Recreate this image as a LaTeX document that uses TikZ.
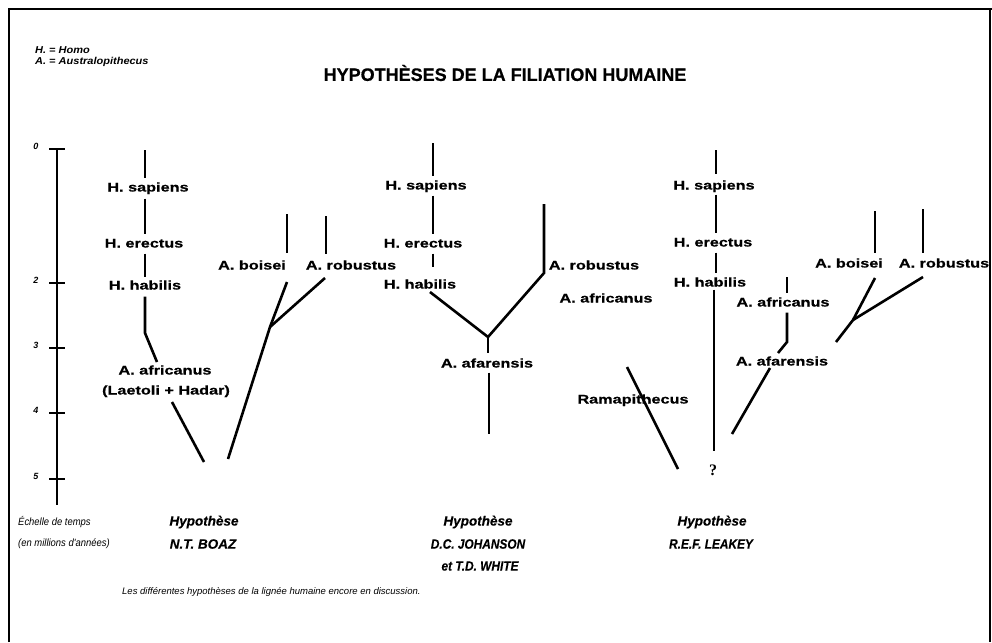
\documentclass[tikz,border=0pt]{standalone}
\usepackage{fontspec}
\setmainfont{Liberation Sans}
\newfontfamily\labf[FakeStretch=1.3, BoldFeatures={FakeBold=0.5}]{Liberation Sans}
\newfontfamily\titf[BoldFeatures={FakeBold=0.6}]{Liberation Sans}
\newfontfamily\narf[FakeStretch=0.9]{Liberation Sans}
\newfontfamily\hypf[BoldItalicFeatures={FakeBold=0.3}]{Liberation Sans}
\newfontfamily\namef[FakeStretch=0.88, BoldItalicFeatures={FakeBold=0.3}]{Liberation Sans}
\newfontfamily\legf[FakeStretch=1.1]{Liberation Sans}
\newfontfamily\serf{Liberation Serif}
\begin{document}
\begin{tikzpicture}[x=1pt,y=-1pt,
  lab/.style={font=\labf\bfseries\fontsize{12.5}{14}\selectfont, inner sep=0pt, outer sep=0pt, text height=9pt, text depth=0pt},
  branch/.style={line width=2.6pt, line cap=butt},
  hyp/.style={font=\hypf\bfseries\itshape\fontsize{13.5}{14}\selectfont, inner sep=0pt, align=center},
  hname/.style={font=\namef\bfseries\itshape\fontsize{13.5}{14}\selectfont, inner sep=0pt, align=center},
  small/.style={font=\narf\itshape\fontsize{10.5}{11}\selectfont, inner sep=0pt, anchor=west},
  legend/.style={font=\legf\bfseries\itshape\fontsize{10}{11}\selectfont, inner sep=0pt, anchor=west},
  tick/.style={font=\bfseries\itshape\fontsize{9}{10}\selectfont, inner sep=0pt}]
\useasboundingbox (0,0) rectangle (992,642);
\fill[white] (0,0) rectangle (992,642);
% frame
\draw[line width=2pt] (9,642) -- (9,9) -- (992,9);
\draw[line width=2pt] (990,9) -- (990,642);
% legend and title
\node[legend] (legH) at (35,50) {H. = Homo};
\node[legend] (legA) at (35,62) {A. = Australopithecus};
\node[font=\titf\bfseries\fontsize{18}{20}\selectfont, inner sep=0pt] (title) at (505,73) {HYPOTHÈSES DE LA FILIATION HUMAINE};
% time scale
\coordinate (axtop) at (57,148);
\coordinate (axbot) at (57,505);
\draw[line width=2.4pt] (axtop) -- (axbot);
\foreach \v/\yy in {0/149,2/283,3/348,4/413,5/479}{
  \coordinate (t\v) at (57,\yy);
  \draw[line width=1.6pt] ([xshift=-8pt]t\v) -- ([xshift=8pt]t\v);
  \node[tick] (tl\v) at (36,\yy-3) {\v};
}
\node[small] (ech1) at (18,522) {Échelle de temps};
\node[small] (ech2) at (18,544) {(en millions d'années)};
% ===== Boaz =====
\coordinate (b0) at (145,150);
\node[lab] (bsap) at (148,187) {H. sapiens};
\node[lab] (berec) at (144,243) {H. erectus};
\node[lab] (bhab) at (145,285) {H. habilis};
\coordinate (bbend) at (145,333);
\coordinate (bafrin) at (157,362);
\node[lab] (bafr) at (165,370) {A. africanus};
\node[lab] (blae) at (166,390) {(Laetoli + Hadar)};
\coordinate (bafrout) at (172,402);
\coordinate (broot1) at (204,462);
\coordinate (broot2) at (228,459);
\coordinate (bbr) at (270,327);
\coordinate (bboi) at (287,282);
\coordinate (bboitop) at (287,214);
\node[lab] (bboiL) at (252,265) {A. boisei};
\coordinate (brob) at (325,278);
\coordinate (brobtop) at (326,216);
\node[lab] (brobL) at (351,265) {A. robustus};
\draw[branch] (b0) -- ([yshift=5pt]b0 |- bsap.north);
\draw[branch] ([yshift=-7pt]b0 |- bsap.south) -- ([yshift=5pt]b0 |- berec.north);
\draw[branch] ([yshift=-6pt]b0 |- berec.south) -- ([yshift=4pt]b0 |- bhab.north);
\draw[branch] ([yshift=-7pt]b0 |- bhab.south) -- (bbend) -- (bafrin);
\draw[branch] (bafrout) -- (broot1);
\draw[branch] (broot2) -- (bbr) -- (bboi);
\draw[branch] (bbr) -- (brob);
\draw[branch] (bboitop) -- ([yshift=8pt]bboitop |- bboiL.north);
\draw[branch] (brobtop) -- ([yshift=7pt]brobtop |- brobL.north);
\node[hyp] (bhyp) at (204,522) {Hypothèse};
\node[hyp] (bname) at (203,544) {N.T. BOAZ};
% ===== Johanson & White =====
\coordinate (j0) at (433,143);
\node[lab] (jsap) at (426,185) {H. sapiens};
\node[lab] (jerec) at (423,243) {H. erectus};
\node[lab] (jhab) at (420,284) {H. habilis};
\coordinate (jhabout) at (430,292);
\coordinate (jbr) at (488,337);
\coordinate (jrobbend) at (544,273);
\coordinate (jrobtop) at (544,204);
\node[lab] (jrobL) at (594,265) {A. robustus};
\node[lab] (jafrL) at (606,298) {A. africanus};
\node[lab] (jafaL) at (487,363) {A. afarensis};
\coordinate (jbot) at (489,434);
\draw[branch] (j0) -- ([yshift=5pt]j0 |- jsap.north);
\draw[branch] ([yshift=-6pt]j0 |- jsap.south) -- ([yshift=5pt]j0 |- jerec.north);
\draw[branch] ([yshift=-6pt]j0 |- jerec.south) -- ([yshift=13pt]j0 |- jhab.north);
\draw[branch] (jhabout) -- (jbr) -- (jrobbend) -- (jrobtop);
\draw[branch] (jbr) -- ([yshift=6pt]jbr |- jafaL.north);
\draw[branch] ([yshift=-5pt]jbot |- jafaL.south) -- (jbot);
\node[hyp] (jhyp) at (478,522) {Hypothèse};
\node[hname] (jname) at (478,544) {D.C. JOHANSON};
\node[hname] (jname2) at (480,566) {et T.D. WHITE};
% ===== Leakey =====
\coordinate (l0) at (716,150);
\node[lab] (lsap) at (714,185) {H. sapiens};
\node[lab] (lerec) at (713,242) {H. erectus};
\node[lab] (lhab) at (710,282) {H. habilis};
\coordinate (lbot) at (714,451);
\node[font=\serf\bfseries\fontsize{16}{17}\selectfont, inner sep=0pt] (lq) at (713,470) {?};
\coordinate (rama1) at (627,367);
\coordinate (rama2) at (678,469);
\node[lab] (ramaL) at (633,399) {Ramapithecus};
\node[lab] (lafrL) at (783,302) {A. africanus};
\coordinate (lafrtop) at (787,277);
\coordinate (lafrbend) at (787,342);
\coordinate (lafrend) at (778,353);
\node[lab] (lafaL) at (782,361) {A. afarensis};
\coordinate (lafaout) at (770,368);
\coordinate (lafabot) at (732,434);
\coordinate (lrb0) at (836,342);
\coordinate (lrbr) at (853,320);
\coordinate (lboi) at (875,278);
\coordinate (lboitop) at (875,211);
\node[lab] (lboiL) at (849,263) {A. boisei};
\coordinate (lrob) at (923,277);
\coordinate (lrobtop) at (923,209);
\node[lab] (lrobL) at (944,263) {A. robustus};
\draw[branch] (l0) -- ([yshift=7pt]l0 |- lsap.north);
\draw[branch] ([yshift=-5pt]l0 |- lsap.south) -- ([yshift=5pt]l0 |- lerec.north);
\draw[branch] ([yshift=-6pt]l0 |- lerec.south) -- ([yshift=5pt]l0 |- lhab.north);
\draw[branch] ([yshift=-3pt]lbot |- lhab.south) -- (lbot);
\draw[branch] (rama1) -- (rama2);
\draw[branch] (lafrtop) -- ([yshift=5pt]lafrtop |- lafrL.north);
\draw[branch] ([yshift=-6pt]lafrtop |- lafrL.south) -- (lafrbend) -- (lafrend);
\draw[branch] (lafaout) -- (lafabot);
\draw[branch] (lrb0) -- (lrbr) -- (lboi);
\draw[branch] (lrbr) -- (lrob);
\draw[branch] (lboitop) -- ([yshift=6pt]lboitop |- lboiL.north);
\draw[branch] (lrobtop) -- ([yshift=6pt]lrobtop |- lrobL.north);
\node[hyp] (lhyp) at (712,522) {Hypothèse};
\node[hname] (lname) at (711,544) {R.E.F. LEAKEY};
% caption
\node[font=\itshape\fontsize{9.5}{11}\selectfont, inner sep=0pt, anchor=west] (cap) at (122,592) {Les différentes hypothèses de la lignée humaine encore en discussion.};
\end{tikzpicture}
\end{document}
